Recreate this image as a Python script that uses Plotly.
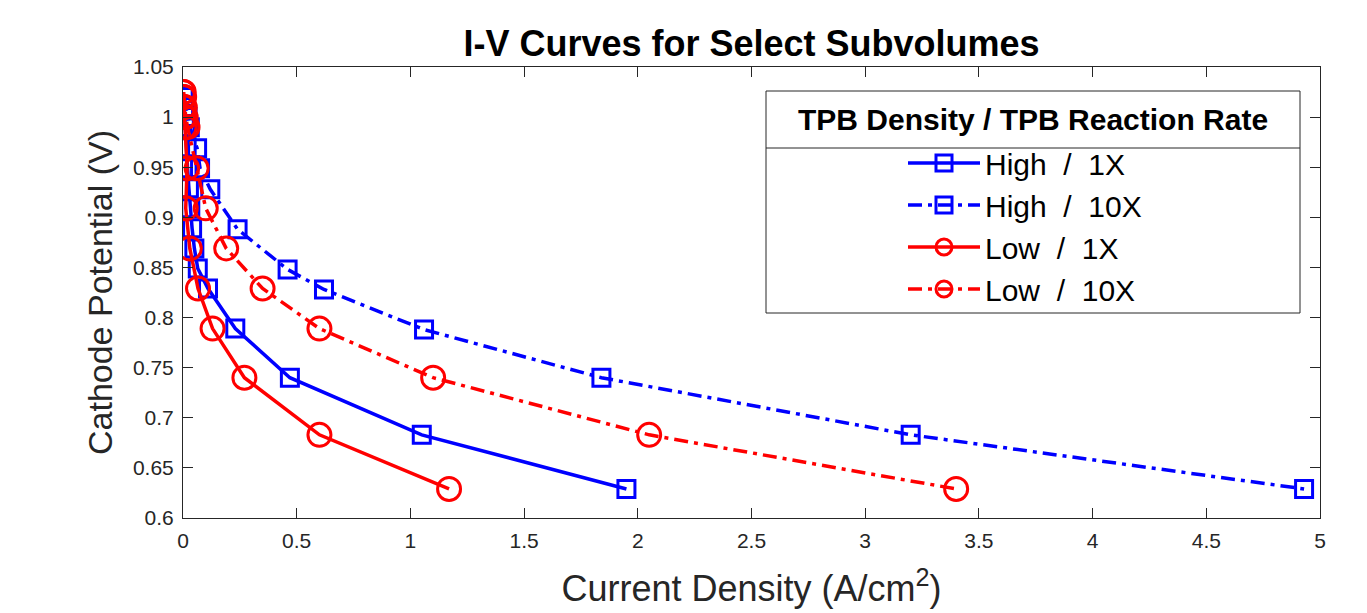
import plotly.graph_objects as go

# ---- data ----
hi1_v = [1.02, 1.01, 1.0, 0.99, 0.97, 0.949, 0.929, 0.909, 0.889, 0.869, 0.849, 0.829, 0.789, 0.740, 0.683, 0.629]
hi1_i = [0.003, 0.005, 0.008, 0.011, 0.016, 0.02, 0.026, 0.032, 0.04, 0.05, 0.065, 0.11, 0.23, 0.47, 1.05, 1.95]

hi10_v = [1.02, 1.01, 1.0, 0.99, 0.969, 0.949, 0.928, 0.888, 0.848, 0.828, 0.788, 0.740, 0.683, 0.629]
hi10_i = [0.006, 0.012, 0.02, 0.03, 0.062, 0.075, 0.12, 0.24, 0.46, 0.62, 1.06, 1.84, 3.20, 4.93]

lo1_v = [1.025, 1.02, 1.01, 1.0, 0.99, 0.949, 0.909, 0.869, 0.829, 0.789, 0.740, 0.683, 0.629]
lo1_i = [0.001, 0.002, 0.003, 0.005, 0.007, 0.018, 0.012, 0.03, 0.066, 0.13, 0.27, 0.60, 1.17]

lo10_v = [1.025, 1.02, 1.01, 1.0, 0.99, 0.949, 0.909, 0.869, 0.829, 0.789, 0.740, 0.683, 0.629]
lo10_i = [0.003, 0.005, 0.008, 0.012, 0.02, 0.06, 0.10, 0.19, 0.35, 0.60, 1.10, 2.05, 3.40]

SP = "\u00a0\u00a0"
names = [f"High{SP}/{SP}1X", f"High{SP}/{SP}10X", f"Low{SP}/{SP}1X", f"Low{SP}/{SP}10X"]
x_ticks = [0, 0.5, 1, 1.5, 2, 2.5, 3, 3.5, 4, 4.5, 5]
y_ticks = [0.6, 0.65, 0.7, 0.75, 0.8, 0.85, 0.9, 0.95, 1.0, 1.05]

BLUE = "#0000FF"
RED = "#FF0000"
DASHDOT = "14px,6px,4px,6px"
FONT = "Liberation Sans, Arial, sans-serif"

fig = go.Figure()
series = [
    (hi1_i, hi1_v, names[0], BLUE, "solid", "square-open", 17),
    (hi10_i, hi10_v, names[1], BLUE, DASHDOT, "square-open", 17),
    (lo1_i, lo1_v, names[2], RED, "solid", "circle-open", 23),
    (lo10_i, lo10_v, names[3], RED, DASHDOT, "circle-open", 23),
]
for xs, ys, nm, col, dash, sym, sz in series:
    fig.add_trace(go.Scatter(
        x=xs, y=ys, name=nm, mode="lines+markers",
        line=dict(color=col, width=3.5, dash=dash),
        marker=dict(symbol=sym, size=sz, color=col, line=dict(width=3, color=col)),
    ))

# plot area in pixels
L, R, T, B = 183, 1320, 67, 518
W, H = 1367, 613

def px(x):
    return (x - L) / (R - L)

def py(y):
    return (B - y) / (B - T)

axis_common = dict(
    showline=True, linecolor="#262626", linewidth=1, mirror="ticks",
    ticks="inside", ticklen=10, tickcolor="#262626", tickwidth=1,
    showgrid=False, zeroline=False, ticklabelstandoff=4,
    tickfont=dict(family=FONT, size=21, color="#262626"),
)

fig.update_layout(
    width=W, height=H,
    margin=dict(l=L, r=W - R, t=T, b=H - B, pad=0),
    paper_bgcolor="white", plot_bgcolor="white",
    font=dict(family=FONT, color="#262626"),
    title=dict(text="<b>I-V Curves for Select Subvolumes</b>", x=0.5, xref="paper",
               y=1 - 43 / H, yanchor="middle",
               font=dict(size=36, color="black", family=FONT)),
    xaxis=dict(range=[0, 5], tickvals=x_ticks, ticktext=[f"{v:g}" for v in x_ticks],
               title=dict(text="Current Density (A/cm<sup>2</sup>)", font=dict(size=36, color="#262626"), standoff=24),
               **axis_common),
    yaxis=dict(range=[0.6, 1.05], tickvals=y_ticks, ticktext=[f"{v:g}" for v in y_ticks],
               title=dict(text="Cathode Potential (V)", font=dict(size=34, color="#262626"), standoff=10),
               **axis_common),
    showlegend=True,
    legend=dict(x=px(903), y=py(137), xanchor="left", yanchor="top",
                bgcolor="rgba(0,0,0,0)", borderwidth=0,
                font=dict(size=30, color="black", family=FONT),
                itemwidth=72, tracegroupgap=0),
)

# legend box, title and separator
fig.add_shape(type="rect", xref="paper", yref="paper",
              x0=px(766), x1=px(1300), y0=py(313), y1=py(91),
              line=dict(color="#262626", width=1), fillcolor="white", layer="above")
fig.add_shape(type="line", xref="paper", yref="paper",
              x0=px(766), x1=px(1300), y0=py(148), y1=py(148),
              line=dict(color="#262626", width=1), layer="above")
fig.add_annotation(text="<b>TPB Density / TPB Reaction Rate</b>", xref="paper", yref="paper",
                   x=px(1033), y=py(119), xanchor="center", yanchor="middle", showarrow=False,
                   font=dict(size=30, color="black", family=FONT))

fig.write_html("out.html")
